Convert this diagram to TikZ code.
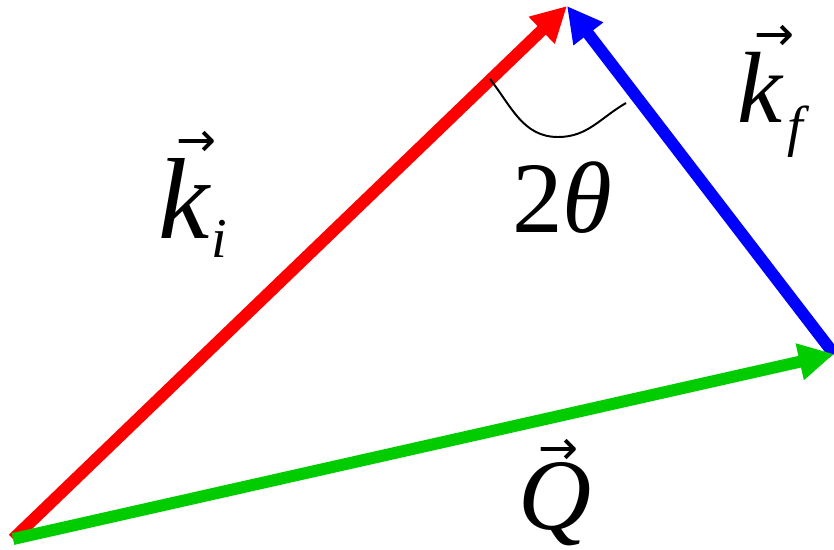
\documentclass[tikz,border=0pt]{standalone}
\usepackage{fontspec}
\setmainfont{Liberation Serif}
\newfontfamily\arrowfont{DejaVu Sans}
\usepackage{tikz}
\usetikzlibrary{arrows.meta}
\definecolor{qgreen}{RGB}{0,204,0}
\tikzstyle{vec} = [line width=8.5pt, -{Triangle[length=25pt,width=25pt]}]
\tikzstyle{lbl} = [inner sep=0pt, anchor=base west, font=\fontsize{72}{80}\selectfont]
% letter, kern after arrow, raise of arrow
\newcommand{\overarr}[3]{\textit{#1}\llap{\raisebox{#3}{\arrowfont\fontsize{34}{34}\selectfont →}\kern#2}}
\newcommand{\subidx}[2]{\raisebox{#1}{\fontsize{40}{40}\selectfont\textit{#2}}}

\begin{document}
\begin{tikzpicture}[x=0.025cm, y=-0.025cm]
\useasboundingbox (0,0) rectangle (834,549);
\coordinate (orig) at (13,539);
\coordinate (top) at (567,6);
\coordinate (right) at (834,354);
\coordinate (arcA) at (490,79);
\coordinate (arcB) at (558,137);
\coordinate (arcC) at (626,103);

\draw[vec, red] (orig) -- (top);
\draw[vec, blue] (right) -- (top);
\draw[vec, qgreen] (orig) -- (right);
\draw[line width=1.4pt] (arcA) to[out=-52, in=180] (arcB) to[out=0, in=-150] (arcC);

\node[lbl, font=\fontsize{82}{90}\selectfont] (ki) at (158,238) {\overarr{k}{-4pt}{58pt}\subidx{-14pt}{i}};
\node[lbl] (kf) at (737,122) {\overarr{k}{-8pt}{51pt}\kern3pt\subidx{-17pt}{f}};
\node[lbl] (angle) at (512,232) {2\textit{θ}};
\node[lbl] (Q) at (518,529) {\overarr{Q}{9pt}{46pt}};
\end{tikzpicture}
\end{document}
